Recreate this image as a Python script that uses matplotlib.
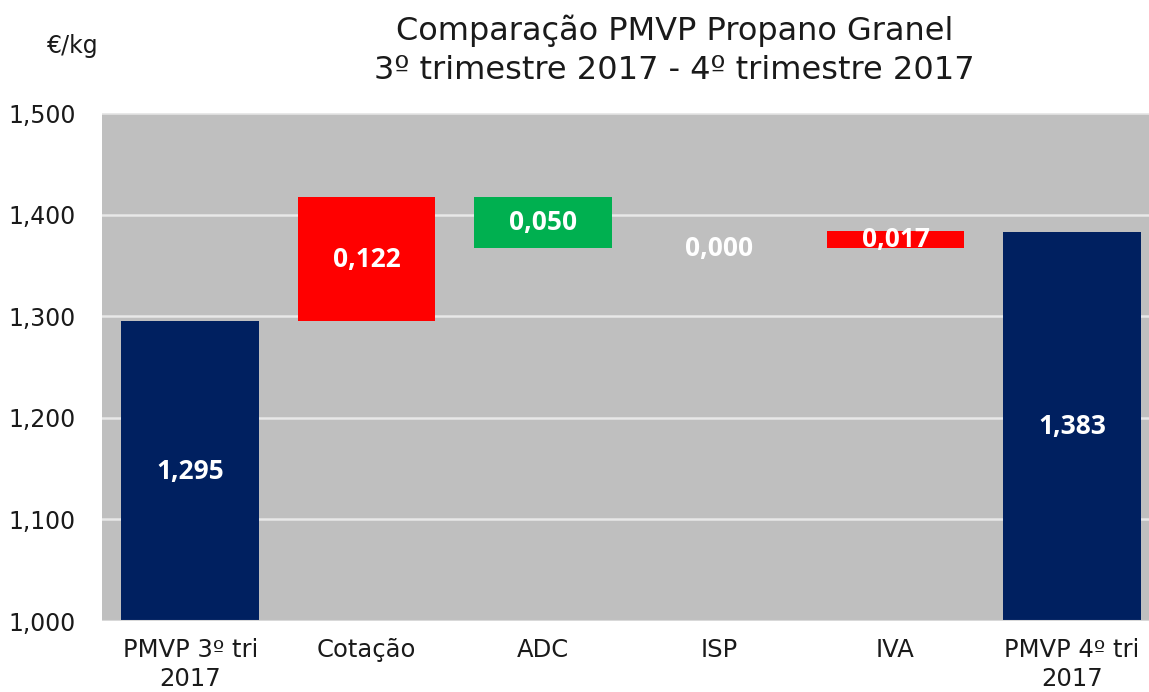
import matplotlib
matplotlib.use("Agg")
import matplotlib.pyplot as plt

# data
categories = ["PMVP 3º tri\n2017", "Cotação", "ADC", "ISP", "IVA", "PMVP 4º tri\n2017"]
values = [1.295, 0.122, -0.050, 0.000, 0.017, 1.383]
y_ticks = [1.0, 1.1, 1.2, 1.3, 1.4, 1.5]

NAVY = "#002060"
RED = "#FF0000"
GREEN = "#00B050"
BG = "#BFBFBF"

plt.rcParams["font.family"] = ["DejaVu Sans"]

fig = plt.figure(figsize=(11.49, 6.92), dpi=100)
ax = fig.add_axes([0.0888, 0.1026, 0.9208, 0.7341])
ax.set_facecolor(BG)

x = list(range(len(categories)))
bottoms, heights, colors, mids = [], [], [], []
running = 0.0
for i, v in enumerate(values):
    if i == 0 or i == len(values) - 1:
        bottoms.append(0.0)
        heights.append(v)
        colors.append(NAVY)
        mids.append(1.0 + (v - 1.0) / 2)
        running = v
    else:
        lo = min(running, running + v)
        bottoms.append(lo)
        heights.append(abs(v))
        colors.append(RED if v >= 0 else GREEN)
        mids.append(lo + abs(v) / 2)
        running += v

ax.bar(x, heights, bottom=bottoms, width=0.78, color=colors, zorder=2)

for i, v in enumerate(values):
    txt = f"{abs(v):.3f}".replace(".", ",")
    ax.text(i, mids[i], txt, ha="center", va="center", color="white",
            fontsize=19, fontweight="bold", family=["Open Sans", "DejaVu Sans"],
            zorder=4)

ax.set_xlim(-0.5, len(categories) - 0.5)
ax.set_ylim(1.0, 1.5)
ax.set_yticks(y_ticks)
ax.set_yticklabels([f"{t:.3f}".replace(".", ",") for t in y_ticks])
ax.set_xticks(x)
ax.set_xticklabels(categories, linespacing=1.3)
ax.tick_params(axis="both", length=0, colors="#1a1a1a")
ax.tick_params(axis="y", pad=19, labelsize=17)
ax.tick_params(axis="x", pad=12, labelsize=17.5)
ax.set_axisbelow(True)
ax.grid(axis="y", color="#E8E8E8", linewidth=1.8)
for s in ax.spines.values():
    s.set_visible(False)
ax.axhline(1.0, color="#D9D9D9", linewidth=1.5, zorder=5)

fig.text(0.587, 0.955, "Comparação PMVP Propano Granel", ha="center", va="center",
         fontsize=23, color="#1a1a1a")
fig.text(0.587, 0.898, "3º trimestre 2017 - 4º trimestre 2017", ha="center", va="center",
         fontsize=23, color="#1a1a1a")
fig.text(0.063, 0.933, "€/kg", ha="center", va="center", fontsize=17, color="#1a1a1a")

fig.savefig("out.png", dpi=100)
